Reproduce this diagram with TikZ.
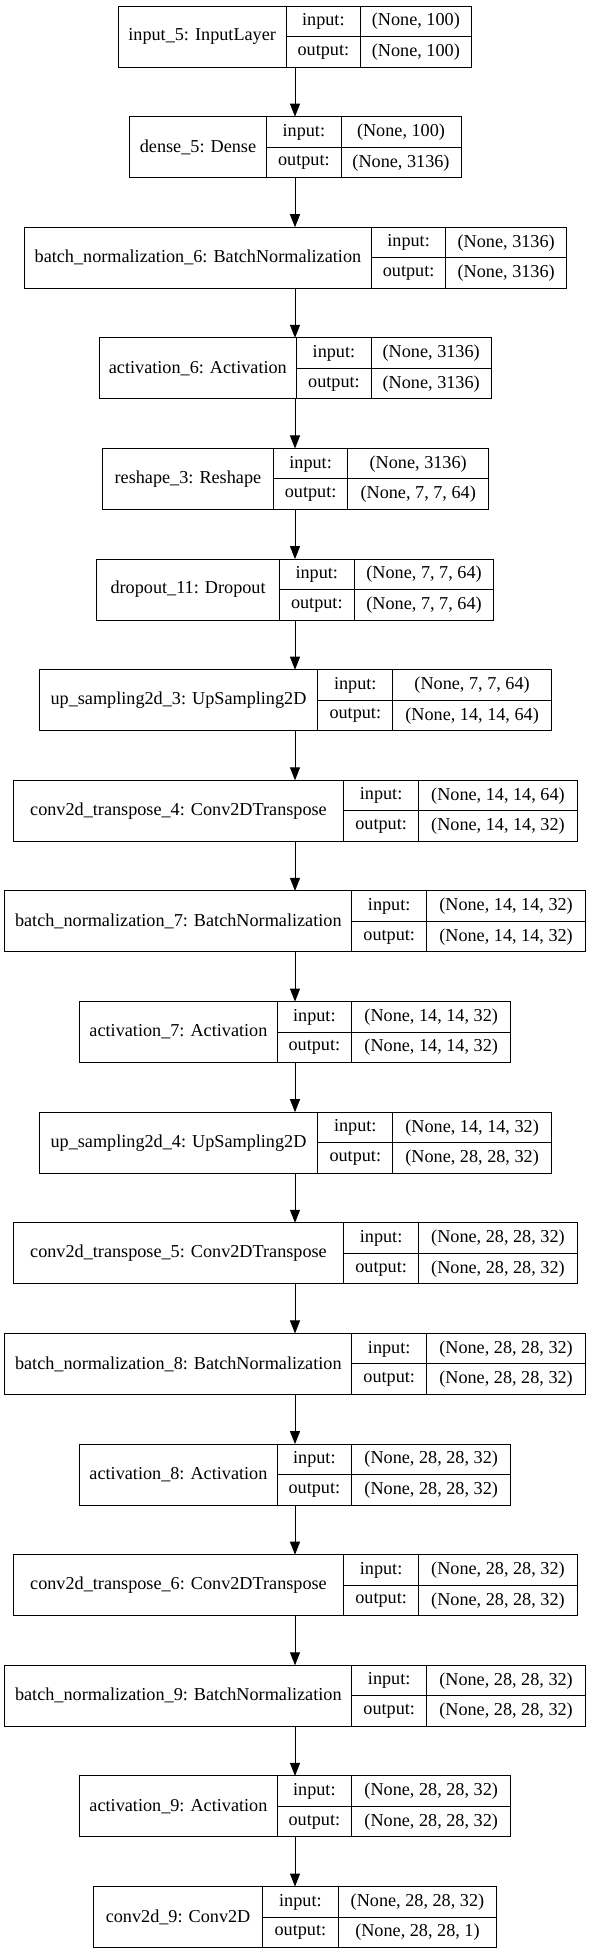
\documentclass[tikz,border=0pt]{standalone}
\usepackage{fontspec}
\setmainfont{Liberation Serif}
\newfontfamily\kerasfont{Liberation Serif}
\usetikzlibrary{arrows.meta}
\tikzset{
  cellbox/.style={draw=black, line width=1bp, inner sep=0pt, outer sep=0pt, fill=white},
  txt/.style={inner sep=0pt, font=\kerasfont\fontsize{18.2bp}{20bp}\selectfont, anchor=center},
  divl/.style={draw=black, line width=1bp},
  arr/.style={draw=black, line width=1bp, -{Triangle[length=13bp,width=10bp]}},
}
% #1 index, #2 left, #3 div1, #4 div2, #5 right, #6 label, #7 input, #8 output
\newcommand{\kerasbox}[8]{%
  \pgfmathsetmacro\kty{6+110.62*#1}%
  \pgfmathsetmacro\kby{\kty+61}%
  \pgfmathsetmacro\kmy{\kty+30.5}%
  \pgfmathsetmacro\kay{\kty+15.5}%
  \pgfmathsetmacro\kcy{\kty+46}%
  \pgfmathsetmacro\klx{(#2+#3)/2}%
  \pgfmathsetmacro\kix{(#3+#4)/2}%
  \pgfmathsetmacro\kvx{(#4+#5)/2}%
  \pgfmathsetmacro\kbw{#5-#2}%
  \node[cellbox, minimum width=\kbw bp, minimum height=61bp, anchor=north west] (b#1) at (#2,\kty) {};
  \draw[divl] (#3,\kty) -- (#3,\kby);
  \draw[divl] (#4,\kty) -- (#4,\kby);
  \draw[divl] (#3,\kmy) -- (#5,\kmy);
  \node[txt] (b#1l) at (\klx,\kmy) {#6};
  \node[txt] (b#1i) at (\kix,\kay) {input:};
  \node[txt] (b#1o) at (\kix,\kcy) {output:};
  \node[txt] (b#1iv) at (\kvx,\kay) {#7};
  \node[txt] (b#1ov) at (\kvx,\kcy) {#8};
}
\begin{document}
\begin{tikzpicture}[x=1bp,y=-1bp]
\fill[white] (0,0) rectangle (591,1955);
\useasboundingbox (0,0) rectangle (591,1955);
\coordinate (axis) at (295,0);
\kerasbox{0}{118.3}{286}{360.7}{471}{input\_5: InputLayer}{(None, 100)}{(None, 100)}
\kerasbox{1}{129.3}{266.7}{341}{461}{dense\_5: Dense}{(None, 100)}{(None, 3136)}
\kerasbox{2}{24.5}{371.3}{445.9}{566.5}{batch\_normalization\_6: BatchNormalization}{(None, 3136)}{(None, 3136)}
\kerasbox{3}{99.1}{296.6}{371.3}{491.1}{activation\_6: Activation}{(None, 3136)}{(None, 3136)}
\kerasbox{4}{102.5}{273.3}{347.9}{488.5}{reshape\_3: Reshape}{(None, 3136)}{(None, 7, 7, 64)}
\kerasbox{5}{96.9}{279.3}{354.3}{493.8}{dropout\_11: Dropout}{(None, 7, 7, 64)}{(None, 7, 7, 64)}
\kerasbox{6}{39.2}{317.8}{392.8}{551.4}{up\_sampling2d\_3: UpSampling2D}{(None, 7, 7, 64)}{(None, 14, 14, 64)}
\kerasbox{7}{13.2}{343.8}{418.4}{577.5}{conv2d\_transpose\_4: Conv2DTranspose}{(None, 14, 14, 64)}{(None, 14, 14, 32)}
\kerasbox{8}{4.9}{351.7}{426.7}{585.4}{batch\_normalization\_7: BatchNormalization}{(None, 14, 14, 32)}{(None, 14, 14, 32)}
\kerasbox{9}{79.9}{277}{351.7}{510.7}{activation\_7: Activation}{(None, 14, 14, 32)}{(None, 14, 14, 32)}
\kerasbox{10}{39.2}{317.8}{392.8}{551.4}{up\_sampling2d\_4: UpSampling2D}{(None, 14, 14, 32)}{(None, 28, 28, 32)}
\kerasbox{11}{13.2}{343.8}{418.4}{577.5}{conv2d\_transpose\_5: Conv2DTranspose}{(None, 28, 28, 32)}{(None, 28, 28, 32)}
\kerasbox{12}{4.9}{351.7}{426.7}{585.4}{batch\_normalization\_8: BatchNormalization}{(None, 28, 28, 32)}{(None, 28, 28, 32)}
\kerasbox{13}{79.9}{277}{351.7}{510.7}{activation\_8: Activation}{(None, 28, 28, 32)}{(None, 28, 28, 32)}
\kerasbox{14}{13.2}{343.8}{418.4}{577.5}{conv2d\_transpose\_6: Conv2DTranspose}{(None, 28, 28, 32)}{(None, 28, 28, 32)}
\kerasbox{15}{4.9}{351.7}{426.7}{585.4}{batch\_normalization\_9: BatchNormalization}{(None, 28, 28, 32)}{(None, 28, 28, 32)}
\kerasbox{16}{79.9}{277}{351.7}{510.7}{activation\_9: Activation}{(None, 28, 28, 32)}{(None, 28, 28, 32)}
\kerasbox{17}{93.5}{262.7}{338.1}{496.8}{conv2d\_9: Conv2D}{(None, 28, 28, 32)}{(None, 28, 28, 1)}
\foreach \i [evaluate=\i as \j using int(\i+1)] in {0,...,16} {
  \draw[arr] (b\i.south -| axis) -- (b\j.north -| axis);
}
\end{tikzpicture}
\end{document}
